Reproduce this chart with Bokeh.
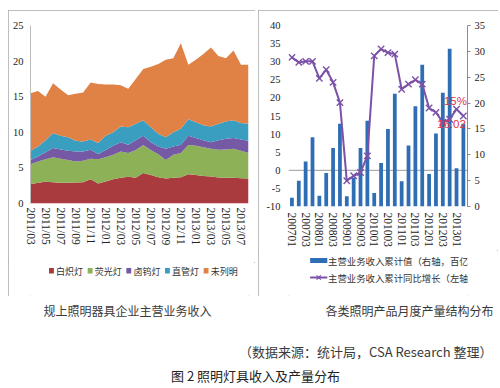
from bokeh.plotting import figure
from bokeh.models import (ColumnDataSource, Range1d, LinearAxis, FixedTicker, Span, Label, Spacer)
from bokeh.layouts import column, row
from bokeh.embed import file_html
from bokeh.resources import INLINE
from bokeh.core.properties import value

# ---------------- left chart data (monthly output structure) ----------------
months = ["2011/03", "2011/04", "2011/05", "2011/06", "2011/07", "2011/08", "2011/09",
          "2011/10", "2011/11", "2011/12", "2012/01", "2012/02", "2012/03", "2012/04",
          "2012/05", "2012/06", "2012/07", "2012/08", "2012/09", "2012/10", "2012/11",
          "2012/12", "2013/01", "2013/02", "2013/03", "2013/04", "2013/05", "2013/06",
          "2013/07", "2013/08"]
incandescent = [2.7, 2.9, 3.05, 3.0, 2.9, 2.9, 2.95, 3.0, 3.4, 2.8, 3.1, 3.4, 3.6, 3.75, 3.6,
                4.3, 4.0, 3.7, 3.5, 3.6, 3.7, 4.1, 4.0, 3.85, 3.8, 3.65, 3.6, 3.6, 3.55, 3.5]
fluorescent = [2.8, 3.0, 3.15, 3.5, 3.4, 3.2, 2.95, 3.0, 2.9, 3.4, 3.4, 3.45, 3.7, 3.35, 3.9,
               3.9, 3.5, 3.2, 2.6, 3.25, 3.4, 4.1, 4.1, 4.05, 3.9, 3.9, 4.0, 4.1, 3.85, 3.6]
halogen = [0.6, 0.7, 1.0, 1.3, 1.3, 1.3, 1.4, 1.3, 1.25, 0.75, 1.0, 1.25, 1.3, 1.15, 1.4,
           1.3, 1.1, 1.1, 1.6, 1.15, 1.15, 1.3, 1.1, 1.0, 0.9, 1.35, 1.5, 1.5, 1.6, 1.7]
tube = [1.3, 1.4, 1.7, 2.1, 1.9, 1.9, 1.5, 1.4, 1.45, 1.55, 2.0, 1.9, 2.2, 2.45, 2.3,
        2.2, 2.1, 1.8, 1.6, 2.0, 2.25, 2.35, 2.2, 2.1, 2.2, 2.3, 2.4, 2.5, 2.3, 2.4]
unlisted = [8.1, 7.8, 6.1, 7.0, 6.5, 5.9, 6.6, 6.9, 8.0, 8.3, 7.2, 6.7, 5.8, 5.4, 6.3,
            7.2, 8.5, 9.8, 10.9, 10.4, 12.0, 7.65, 8.8, 10.0, 11.1, 9.5, 8.9, 9.8, 8.2, 8.3]
series_names = ["白炽灯", "荧光灯", "卤钨灯", "直管灯", "未列明"]
left_ticks = [0, 5, 10, 15, 20, 25]

# ---------------- right chart data (quarterly revenue) ----------------
quarters = ["200701", "200702", "200703", "200704", "200801", "200802", "200803", "200804",
            "200901", "200902", "200903", "200904", "201001", "201002", "201003", "201004",
            "201101", "201102", "201103", "201104", "201201", "201202", "201203", "201204",
            "201301", "201302"]
revenue = [1.7, 5.0, 8.7, 13.4, 2.1, 6.5, 11.3, 16.0, 2.0, 5.6, 11.3, 16.6, 2.6, 8.4, 15.0,
           21.8, 4.9, 11.8, 19.4, 27.4, 6.3, 14.1, 22.0, 30.5, 7.4, 16.02]
growth = [31.2, 29.8, 30.1, 30.1, 25.4, 27.8, 24.3, 18.7, -2.9, -1.5, -0.6, 4.0, 31.6, 33.5,
          32.5, 32.1, 22.4, 23.8, 25.0, 23.8, 17.2, 16.0, 13.2, 14.1, 16.9, 15.0]
growth_ticks = [-10, -5, 0, 5, 10, 15, 20, 25, 30, 35, 40]
revenue_ticks = [0, 5, 10, 15, 20, 25, 30, 35]
bar_label = "主营业务收入累计值（右轴，百亿元）"
line_label = "主营业务收入累计同比增长（左轴，%）"

caption_left = "规上照明器具企业主营业务收入"
caption_right = "各类照明产品月度产量结构分布"
source_note = "（数据来源：统计局，CSA Research 整理）"
fig_title = "图 2 照明灯具收入及产量分布"

area_colors = ["#A93A3E", "#8DB156", "#7659A5", "#3A9EC1", "#E08246"]
bar_color = "#2F6EB5"
line_color = "#7B52A8"
border_style = {"outline": "1px solid #a8a8a8", "outline-offset": "-1px"}
SERIF = "Liberation Serif"
CJK = "Noto Sans CJK SC"


def style_axis(ax, standoff, size):
    ax.major_tick_line_color = None
    ax.major_tick_out = 0
    ax.major_tick_in = 0
    ax.minor_tick_line_color = None
    ax.major_label_standoff = standoff
    ax.major_label_text_font = SERIF
    ax.major_label_text_font_size = size
    ax.major_label_text_color = "#222222"


def strip_fig(w, h):
    # a plain drawing strip whose data units are pixels (y downwards)
    f = figure(width=w, height=h, x_range=Range1d(0, w), y_range=Range1d(h, 0),
               output_backend="svg", toolbar_location=None, min_border=0,
               x_axis_location=None, y_axis_location=None)
    f.outline_line_color = None
    f.grid.visible = False
    return f


# ---------------- left figure ----------------
idx = list(range(len(months)))
src = ColumnDataSource(dict(x=idx, a=incandescent, b=fluorescent, c=halogen, d=tube, e=unlisted))
p1 = figure(width=247, height=252, x_range=Range1d(0, len(months) - 1),
            y_range=Range1d(left_ticks[0], left_ticks[-1]),
            output_backend="svg", toolbar_location=None,
            min_border_left=22, min_border_right=7, min_border_top=15, min_border_bottom=59)
rs = p1.varea_stack(stackers=["a", "b", "c", "d", "e"], x="x", fill_color=area_colors, source=src)
p1.outline_line_color = None
p1.grid.visible = False

p1.yaxis.ticker = FixedTicker(ticks=left_ticks)
p1.yaxis.axis_line_color = "#bdbdbd"
style_axis(p1.yaxis[0], 7, "10.5px")

p1.xaxis.ticker = FixedTicker(ticks=idx[::2])
p1.xaxis.major_label_overrides = {i: months[i] for i in idx[::2]}
p1.xaxis.major_label_orientation = "vertical"
p1.xaxis.axis_line_color = None
style_axis(p1.xaxis[0], 4, "11.5px")

# legend strip (left panel)
l1 = strip_fig(247, 34)
key_x = [21 + 43.8 * i for i in range(len(series_names))]
l1.quad(left=key_x, right=[k + 5.5 for k in key_x], top=[5.5] * 5, bottom=[11] * 5,
        fill_color=area_colors, line_color=None)
l1.text(x=[k + 8 for k in key_x], y=[8.5] * 5, text=series_names,
        text_align="left", text_baseline="middle",
        text_font=value(CJK), text_font_size="9px", text_color="#333333")

# ---------------- right figure ----------------
qidx = list(range(len(quarters)))
p2 = figure(width=240, height=240, x_range=Range1d(-0.5, len(quarters) - 0.4),
            y_range=Range1d(growth_ticks[0], growth_ticks[-1]),
            output_backend="svg", toolbar_location=None,
            min_border_left=30, min_border_right=31, min_border_top=15, min_border_bottom=44)
p2.extra_y_ranges = {"rev": Range1d(revenue_ticks[0], revenue_ticks[-1])}
p2.outline_line_color = None
p2.grid.visible = False

bars = p2.vbar(x=qidx, top=revenue, bottom=0, width=0.55, y_range_name="rev",
               fill_color=bar_color, line_color=None)
p2.add_layout(Span(location=0, dimension="width", line_color="#9a9a9a", line_width=1,
                   level="underlay"))
ln = p2.line(qidx, growth, line_color=line_color, line_width=2)
pts = p2.scatter(qidx, growth, marker="x", size=9, line_color=line_color, line_width=1.4)

p2.yaxis.ticker = FixedTicker(ticks=growth_ticks)
p2.yaxis.major_label_overrides = {t: str(t) for t in growth_ticks}
p2.yaxis.axis_line_color = None
style_axis(p2.yaxis[0], 8, "10.5px")

rax = LinearAxis(y_range_name="rev", ticker=FixedTicker(ticks=revenue_ticks))
style_axis(rax, 4, "10.5px")
rax.axis_line_color = "#8c8c8c"
rax.major_tick_line_color = "#8c8c8c"
rax.major_tick_out = 3
p2.add_layout(rax, "right")

p2.xaxis.ticker = FixedTicker(ticks=qidx[::2])
p2.xaxis.major_label_overrides = {i: quarters[i] for i in qidx[::2]}
p2.xaxis.major_label_orientation = "vertical"
p2.xaxis.axis_line_color = None
style_axis(p2.xaxis[0], 6, "11.5px")

p2.add_layout(Label(x=qidx[-1], y=growth[-1], text=f"{growth[-1]:.0f}%",
                    x_offset=-8, y_offset=15, text_align="center", text_baseline="middle",
                    text_color="#E0353D", text_font_size="11.5px", text_font="Liberation Sans"))
p2.add_layout(Label(x=qidx[-1], y=revenue[-1], y_range_name="rev", text=f"{revenue[-1]:.2f}",
                    x_offset=-12, y_offset=0, text_align="center", text_baseline="middle",
                    text_color="#E0353D", text_font_size="11.5px", text_font="Liberation Sans"))

# legend strip (right panel)
l2 = strip_fig(240, 46)
l2.quad(left=[29], right=[52], top=[7.5], bottom=[12.5], fill_color=bar_color, line_color=None)
l2.segment(x0=[29], y0=[27], x1=[52], y1=[27], line_color=line_color, line_width=2)
l2.scatter(x=[40.5], y=[27], marker="x", size=6, line_color=line_color, line_width=1.2)
l2.text(x=[53, 53], y=[10, 27], text=[bar_label, line_label],
        text_align="left", text_baseline="middle",
        text_font=value(CJK), text_font_size="9.4px", text_color="#333333")

# ---------------- captions ----------------
p3 = strip_fig(500, 91)
p3.text(x=[127], y=[14], text=[caption_left], text_align="center", text_baseline="middle",
        text_font=value(CJK), text_font_size="12px", text_color="#3a3a3a")
p3.text(x=[493], y=[14], text=[caption_right], text_align="right", text_baseline="middle",
        text_font=value(CJK), text_font_size="12px", text_color="#3a3a3a")
p3.text(x=[492], y=[55], text=[source_note], text_align="right", text_baseline="middle",
        text_font=value(CJK), text_font_size="13px", text_color="#3a3a3a")
p3.text(x=[255], y=[79], text=[fig_title], text_align="center", text_baseline="middle",
        text_font=value(CJK), text_font_size="13px", text_color="#222222")

left_panel = column(p1, l1, styles=border_style)
right_panel = column(p2, l2, styles=border_style)
layout = column(Spacer(height=10),
                row(Spacer(width=8), left_panel, Spacer(width=3), right_panel),
                p3)
open("out.html", "w").write(file_html(layout, INLINE))
